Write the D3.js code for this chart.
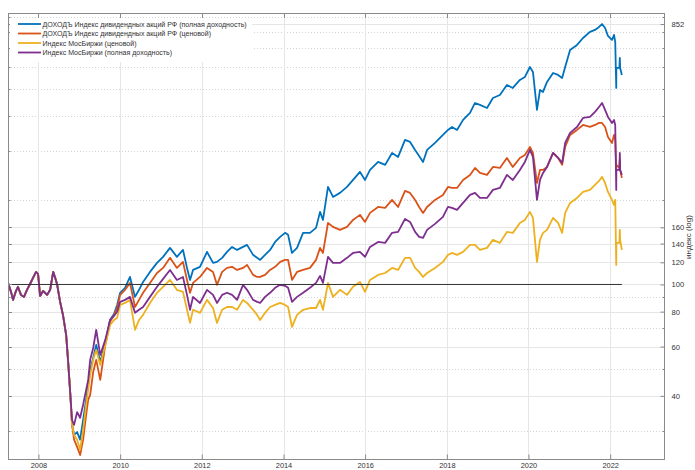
<!DOCTYPE html>
<html>
<head>
<meta charset="utf-8">
<script src="https://cdn.jsdelivr.net/npm/d3@7"></script>
<style>
  html, body { margin: 0; padding: 0; background: #fff; }
  svg { display: block; font-family: "Liberation Sans", Arial, sans-serif; }
</style>
</head>
<body>
<svg id="chart" width="695" height="470"></svg>
<script>
// Observation dates shared by all four index series
const dates = [
  "2007-04-04","2007-05-01","2007-05-19","2007-06-15","2007-07-02","2007-07-29","2007-08-25","2007-09-21",
  "2007-10-18","2007-11-14","2007-12-11","2007-12-29","2008-01-16","2008-02-12","2008-03-19","2008-04-15",
  "2008-05-12","2008-05-30","2008-06-17","2008-07-13","2008-08-09","2008-09-05","2008-09-23","2008-10-11",
  "2008-10-28","2008-11-15","2008-12-12","2009-01-08","2009-02-04","2009-03-03","2009-03-21","2009-04-08",
  "2009-05-05","2009-06-01","2009-07-07","2009-08-21","2009-10-03","2009-11-08","2009-12-05","2010-01-01",
  "2010-02-14","2010-03-30","2010-05-14","2010-06-19","2010-07-25","2010-09-25","2010-11-27","2011-01-20",
  "2011-03-23","2011-05-24","2011-07-17","2011-08-22","2011-09-18","2011-10-15","2011-12-16","2012-02-17",
  "2012-04-11","2012-05-16","2012-07-01","2012-08-14","2012-09-28","2012-11-12","2013-01-04","2013-02-09",
  "2013-04-04","2013-05-10","2013-06-06","2013-07-20","2013-09-03","2013-10-18","2013-12-02","2014-01-15",
  "2014-02-11","2014-03-18","2014-05-02","2014-06-25","2014-08-26","2014-10-19","2014-11-24","2014-12-20",
  "2015-02-03","2015-03-20","2015-05-21","2015-07-23","2015-09-15","2015-11-16","2015-12-31","2016-02-14",
  "2016-04-26","2016-06-28","2016-08-29","2016-10-22","2016-12-23","2017-02-06","2017-03-23","2017-04-28",
  "2017-06-02","2017-07-08","2017-09-17","2017-11-27","2018-01-11","2018-02-16","2018-04-02","2018-05-26",
  "2018-07-27","2018-09-10","2018-10-24","2018-12-26","2019-02-17","2019-04-20","2019-06-22","2019-08-14",
  "2019-10-16","2019-11-30","2020-01-14","2020-02-10","2020-03-17","2020-04-13","2020-05-10","2020-06-15",
  "2020-08-08","2020-09-22","2020-10-28","2020-11-24","2021-01-07","2021-03-10","2021-05-03","2021-07-04",
  "2021-08-18","2021-09-23","2021-10-20","2021-11-16","2021-12-12","2022-01-17","2022-02-04","2022-02-15",
  "2022-02-24","2022-02-25","2022-03-24","2022-03-28","2022-03-31","2022-04-15"
];

// ДОХОДЪ Индекс дивидендных акций РФ (полная доходность)
const dohodTotal = [
  101.3,94.1,88.1,94.9,98.1,91.8,90.3,95.7,100.4,105.6,110.9,109.0,91.0,94.9,91.8,95.7,
  110.9,105.6,99.7,86.7,77.3,66.1,52.9,41.3,31.5,29.0,29.7,27.9,32.8,38.7,43.8,49.5,
  54.6,60.8,52.9,61.8,74.7,78.6,84.5,93.4,97.3,106.4,90.3,95.7,102.1,110.9,119.4,125.5,
  135.1,125.5,132.9,114.6,103.8,112.7,115.6,130.7,119.4,120.4,124.5,130.7,136.2,132.9,136.2,138.5,
  127.6,124.5,122.4,127.6,132.9,141.9,147.9,152.9,150.4,129.6,135.1,152.9,152.9,159.3,181.7,170.1,
  223.1,205.5,212.4,223.1,236.3,252.4,236.3,256.6,274.0,267.4,295.1,285.5,328.4,323.0,302.5,287.9,
  274.0,302.5,320.4,342.1,356.6,365.4,356.6,387.2,410.1,445.1,437.9,427.2,463.8,475.4,516.3,503.6,
  537.9,551.4,598.5,574.4,420.4,495.5,487.4,529.1,569.7,560.6,546.9,598.5,688.5,717.3,759.8,798.6,
  811.9,831.7,852.0,824.9,772.5,747.4,778.9,735.1,503.6,593.6,593.6,644.5,593.6,560.6
];

// ДОХОДЪ Индекс дивидендных акций РФ (ценовой)
const dohodPrice = [
  101.3,94.1,88.1,94.9,98.1,91.8,90.3,95.7,100.4,105.6,110.9,109.0,91.0,94.9,91.8,95.7,
  110.9,105.6,99.7,86.7,77.3,66.1,52.9,41.3,31.5,27.9,26.3,24.6,27.9,34.2,38.7,40.3,
  48.7,53.8,45.6,60.8,73.5,77.9,82.4,91.8,95.7,101.3,83.1,88.1,93.4,101.3,109.9,114.6,
  124.5,114.6,120.4,103.8,93.4,101.3,106.4,114.6,110.9,99.7,110.9,114.6,115.6,112.7,114.6,117.5,
  108.2,106.4,106.4,108.2,112.7,115.6,120.4,122.4,122.4,103.8,110.9,112.7,114.6,122.4,135.1,129.6,
  165.9,160.6,156.7,160.6,170.1,177.3,167.3,180.2,189.2,187.7,200.5,189.2,215.9,212.4,200.5,189.2,
  180.2,189.2,200.5,208.9,223.1,221.2,221.2,236.3,246.3,260.9,250.3,246.3,263.0,260.9,283.2,263.0,
  283.2,290.3,309.9,295.1,230.5,256.6,256.6,263.0,295.1,283.2,267.4,309.9,342.1,356.6,371.5,365.4,
  371.5,377.7,377.7,365.4,336.5,320.4,342.1,328.4,256.6,267.4,260.9,278.6,256.6,240.3
];

// Индекс МосБиржи (ценовой)
const moexPrice = [
  101.3,94.1,88.1,94.9,98.1,91.8,90.3,95.7,100.4,105.6,110.9,109.0,91.0,94.9,91.8,95.7,
  110.9,105.6,99.7,86.7,77.3,66.1,52.9,41.3,31.5,29.0,27.9,25.7,30.2,37.2,42.0,47.5,
  53.8,58.4,51.6,60.8,71.7,74.7,76.0,84.5,85.9,88.1,68.8,74.7,77.9,85.9,93.4,98.1,
  103.8,95.7,94.1,81.2,72.9,81.2,79.2,88.1,82.4,72.9,81.2,83.1,83.1,81.2,88.1,85.9,
  81.2,77.9,74.7,79.2,83.1,84.5,85.9,84.5,83.1,70.5,77.9,81.2,82.4,82.4,88.1,81.2,
  101.3,90.3,95.7,91.8,98.1,102.1,94.1,103.8,108.2,109.9,114.6,112.7,124.5,124.5,114.6,110.9,
  106.4,109.9,114.6,120.4,127.6,129.6,127.6,130.7,138.5,138.5,132.9,135.1,144.3,140.8,154.1,152.9,
  165.9,170.1,181.7,173.0,120.4,144.3,152.9,156.7,173.0,165.9,152.9,180.2,195.6,203.8,214.1,217.7,
  226.8,234.4,242.3,230.5,214.1,200.5,192.4,200.5,117.5,140.8,140.8,156.7,144.3,132.9
];

// Индекс МосБиржи (полная доходность)
const moexTotal = [
  101.3,94.1,88.1,94.9,98.1,91.8,90.3,95.7,100.4,105.6,110.9,109.0,91.0,94.9,91.8,95.7,
  110.9,105.6,99.7,86.7,77.3,66.1,52.9,41.3,32.8,31.5,35.0,33.4,37.2,42.0,45.6,53.8,
  59.3,68.8,56.0,63.4,74.7,77.3,79.9,86.7,88.1,90.3,79.2,81.2,83.1,90.3,98.1,104.7,
  112.7,103.8,106.4,91.8,81.2,90.3,85.9,95.7,91.8,85.9,91.8,93.4,91.8,88.1,99.7,95.7,
  88.1,86.7,85.9,90.3,93.4,97.3,99.7,98.9,97.3,86.7,90.3,93.4,97.3,101.3,107.3,101.3,
  125.5,119.4,119.4,124.5,129.6,130.7,125.5,136.2,141.9,140.8,152.9,154.1,171.5,167.3,154.1,148.0,
  146.7,156.7,164.6,174.4,189.2,187.7,184.7,195.6,208.9,212.4,203.8,203.8,217.7,221.2,246.3,236.3,
  256.6,274.0,302.5,285.5,200.5,236.3,250.3,263.0,295.1,283.2,271.8,320.4,347.9,365.4,393.6,396.9,
  413.5,430.7,445.1,420.4,396.9,377.7,387.2,371.5,217.7,256.6,256.6,295.1,256.6,246.3
];

// Reference level drawn as a flat line
const baseLevel = 100;

// Axis ticks
const yMajorTicks = [40, 60, 80, 100, 120, 140, 160, 852];
const yMinorTicks = [30, 50, 70, 90, 200, 300, 400, 500, 600, 700, 800, 900];
const xTickYears = [2008, 2010, 2012, 2014, 2016, 2018, 2020, 2022];

const seriesNames = [
  "ДОХОДЪ Индекс дивидендных акций РФ (полная доходность)",
  "ДОХОДЪ Индекс дивидендных акций РФ (ценовой)",
  "Индекс МосБиржи (ценовой)",
  "Индекс МосБиржи (полная доходность)"
];
const seriesColors = ["#0072BD", "#D95319", "#EDB120", "#7E2F8E"];
const seriesValues = [dohodTotal, dohodPrice, moexPrice, moexTotal];
const yLabel = "индекс (log)";

const parse = d3.timeParse("%Y-%m-%d");
const t = dates.map(parse);

const L = 8, R = 665, T = 13, B = 460;
const svg = d3.select("#chart");

const x = d3.scaleTime()
  .domain([new Date(2007, 3, 4), new Date(2023, 4, 6)])
  .range([L, R]);
const y = d3.scaleLog()
  .domain([23.6, 933])
  .range([B, T]);

const clipId = "plot-clip";
svg.append("defs").append("clipPath").attr("id", clipId)
  .append("rect").attr("x", L).attr("y", T).attr("width", R - L).attr("height", B - T);

// grid
const grid = svg.append("g");
grid.selectAll(".ymaj").data(yMajorTicks).join("line")
  .attr("x1", L).attr("x2", R)
  .attr("y1", d => Math.round(y(d)) + 0.5).attr("y2", d => Math.round(y(d)) + 0.5)
  .attr("stroke", "#e6e6e6").attr("stroke-width", 1);
grid.selectAll(".ymin").data(yMinorTicks).join("line")
  .attr("x1", L).attr("x2", R)
  .attr("y1", d => Math.round(y(d)) + 0.5).attr("y2", d => Math.round(y(d)) + 0.5)
  .attr("stroke", "#d4d4d4").attr("stroke-width", 1).attr("stroke-dasharray", "1,2");
grid.selectAll(".xg").data(xTickYears).join("line")
  .attr("x1", d => Math.round(x(new Date(d, 0, 1))) + 0.5)
  .attr("x2", d => Math.round(x(new Date(d, 0, 1))) + 0.5)
  .attr("y1", T).attr("y2", B)
  .attr("stroke", "#e6e6e6").attr("stroke-width", 1);

// series lines
const plot = svg.append("g").attr("clip-path", `url(#${clipId})`);
seriesValues.forEach((vals, i) => {
  const line = d3.line()
    .x((d, k) => x(t[k]))
    .y(d => y(d));
  plot.append("path")
    .datum(vals)
    .attr("d", line)
    .attr("fill", "none")
    .attr("stroke", seriesColors[i])
    .attr("stroke-width", 1.8)
    .attr("stroke-linejoin", "round");
});

// flat reference line at 100
plot.append("line")
  .attr("x1", x(t[0])).attr("x2", x(t[t.length - 1]))
  .attr("y1", y(baseLevel)).attr("y2", y(baseLevel))
  .attr("stroke", "#333").attr("stroke-width", 1);

// axes box
const axisColor = "#8a8a8a";
svg.append("rect")
  .attr("x", L + 0.5).attr("y", T + 0.5)
  .attr("width", R - L - 1).attr("height", B - T - 1)
  .attr("fill", "none").attr("stroke", axisColor).attr("stroke-width", 1);

// right y axis (labels) and mirrored ticks on the left
const yAxisR = d3.axisRight(y).tickValues(yMajorTicks).tickSize(-4).tickPadding(7)
  .tickFormat(d3.format("d"));
const gR = svg.append("g").attr("transform", `translate(${R - 0.5},0)`).call(yAxisR);
gR.select(".domain").remove();
gR.selectAll("line").attr("stroke", axisColor);
gR.selectAll("text").attr("fill", "#333").attr("font-size", "7.6px");

const minorR = svg.append("g");
minorR.selectAll("line").data(yMinorTicks).join("line")
  .attr("x1", R - 2.5).attr("x2", R)
  .attr("y1", d => Math.round(y(d)) + 0.5).attr("y2", d => Math.round(y(d)) + 0.5)
  .attr("stroke", axisColor);
const leftTicks = svg.append("g");
leftTicks.selectAll("line").data(yMajorTicks).join("line")
  .attr("x1", L).attr("x2", L + 4)
  .attr("y1", d => Math.round(y(d)) + 0.5).attr("y2", d => Math.round(y(d)) + 0.5)
  .attr("stroke", axisColor);
leftTicks.selectAll(".mn").data(yMinorTicks).join("line")
  .attr("x1", L).attr("x2", L + 2.5)
  .attr("y1", d => Math.round(y(d)) + 0.5).attr("y2", d => Math.round(y(d)) + 0.5)
  .attr("stroke", axisColor);

// bottom x axis and mirrored top ticks
const xAxisB = d3.axisBottom(x)
  .tickValues(xTickYears.map(yr => new Date(yr, 0, 1)))
  .tickSize(-5).tickPadding(3)
  .tickFormat(d3.timeFormat("%Y"));
const gB = svg.append("g").attr("transform", `translate(0,${B - 0.5})`).call(xAxisB);
gB.select(".domain").remove();
gB.selectAll("line").attr("stroke", axisColor);
gB.selectAll("text").attr("fill", "#333").attr("font-size", "7.4px");

svg.append("g").selectAll("line").data(xTickYears).join("line")
  .attr("x1", d => Math.round(x(new Date(d, 0, 1))) + 0.5)
  .attr("x2", d => Math.round(x(new Date(d, 0, 1))) + 0.5)
  .attr("y1", T).attr("y2", T + 5)
  .attr("stroke", axisColor);

// y-axis title on the right
svg.append("text")
  .attr("transform", `translate(691,${237}) rotate(-90)`)
  .attr("text-anchor", "middle")
  .attr("fill", "#333")
  .attr("font-size", "8px")
  .text(yLabel);

// legend
const lg = svg.append("g");
lg.append("rect")
  .attr("x", 10).attr("y", 18).attr("width", 242).attr("height", 44)
  .attr("fill", "#fff");
seriesNames.forEach((name, i) => {
  const yy = 24 + i * 9.5;
  lg.append("line")
    .attr("x1", 18).attr("x2", 41).attr("y1", yy).attr("y2", yy)
    .attr("stroke", seriesColors[i]).attr("stroke-width", 1.8);
  lg.append("text")
    .attr("x", 42.5).attr("y", yy + 2.6)
    .attr("fill", "#333").attr("font-size", "7.05px")
    .text(name);
});
</script>
</body>
</html>
